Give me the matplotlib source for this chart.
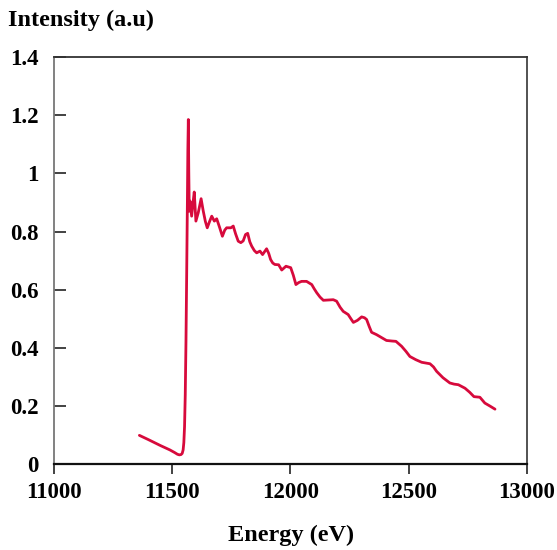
import numpy as np
import matplotlib
matplotlib.use("Agg")
import matplotlib.pyplot as plt
from matplotlib.ticker import FuncFormatter

# spectrum
energy = [11361, 11400, 11450, 11490, 11510, 11522, 11530, 11537, 11542, 11546,
          11549, 11552, 11555, 11558, 11561, 11564, 11566, 11568, 11570, 11572,
          11575, 11582, 11588, 11593, 11600, 11610, 11622, 11631, 11640, 11648,
          11658, 11667, 11678, 11688, 11700, 11712, 11722, 11730, 11748, 11758,
          11768, 11779, 11790, 11800, 11810, 11819, 11828, 11836, 11847, 11857,
          11871, 11882, 11899, 11908, 11916, 11925, 11934, 11950, 11963, 11981,
          12001, 12012, 12023, 12035, 12047, 12068, 12090, 12100, 12111, 12125,
          12139, 12160, 12181, 12195, 12210, 12223, 12244, 12256, 12266, 12283,
          12301, 12313, 12322, 12333, 12343, 12364, 12385, 12406, 12430, 12446,
          12470, 12488, 12505, 12530, 12555, 12590, 12605, 12618, 12645, 12674,
          12692, 12710, 12738, 12758, 12776, 12801, 12822, 12845, 12865]
intensity = [0.100, 0.085, 0.065, 0.050, 0.041, 0.035, 0.033, 0.034, 0.038, 0.050,
             0.075, 0.130, 0.240, 0.420, 0.650, 0.900, 1.080, 1.185, 1.000, 0.870,
             0.905, 0.853, 0.900, 0.936, 0.836, 0.865, 0.913, 0.871, 0.835, 0.813,
             0.835, 0.853, 0.836, 0.844, 0.815, 0.784, 0.805, 0.813, 0.813, 0.819,
             0.792, 0.767, 0.762, 0.768, 0.790, 0.794, 0.765, 0.750, 0.735, 0.727,
             0.733, 0.721, 0.741, 0.725, 0.704, 0.692, 0.687, 0.686, 0.668, 0.681,
             0.676, 0.650, 0.618, 0.625, 0.629, 0.629, 0.618, 0.604, 0.590, 0.575,
             0.564, 0.565, 0.566, 0.561, 0.540, 0.526, 0.515, 0.500, 0.488, 0.495,
             0.507, 0.504, 0.498, 0.474, 0.454, 0.446, 0.436, 0.426, 0.424, 0.423,
             0.406, 0.389, 0.371, 0.360, 0.351, 0.346, 0.335, 0.320, 0.298, 0.280,
             0.276, 0.274, 0.262, 0.248, 0.233, 0.231, 0.211, 0.200, 0.190]

x_ticks = [11000, 11500, 12000, 12500, 13000]
y_ticks = [0, 0.2, 0.4, 0.6, 0.8, 1.0, 1.2, 1.4]

plt.rcParams["font.family"] = "Liberation Serif"
plt.rcParams["font.weight"] = "bold"

fig = plt.figure(figsize=(5.57, 5.5), dpi=100)
ax = fig.add_axes([0.097, 0.1555, 0.849, 0.741])

ax.plot(energy, intensity, color="#d70a3c", linewidth=2.0,
        solid_joinstyle="round", solid_capstyle="round")

ax.set_xlim(11000, 13000)
ax.set_ylim(0, 1.4)
ax.set_xticks(x_ticks)
ax.set_yticks(y_ticks)
ax.yaxis.set_major_formatter(FuncFormatter(lambda v, p: "%g" % v))

ax.tick_params(axis="y", direction="in", length=8.5, width=1.2, pad=11,
               labelsize=16.5, color="#222222")
ax.tick_params(axis="x", direction="out", length=7.5, width=1.2, pad=5,
               labelsize=16.5, color="#222222")
for lab in ax.get_xticklabels() + ax.get_yticklabels():
    lab.set_fontweight("bold")

ax.spines["left"].set_color("#777777")
ax.spines["left"].set_linewidth(1.3)
ax.spines["bottom"].set_color("#111111")
ax.spines["bottom"].set_linewidth(1.6)
ax.spines["top"].set_color("#333333")
ax.spines["top"].set_linewidth(1.3)
ax.spines["right"].set_color("#444444")
ax.spines["right"].set_linewidth(1.3)

fig.text(8 / 557, 1 - 20 / 550, "Intensity (a.u)", fontsize=17.5, fontweight="bold",
         ha="left", va="center")
fig.text(291 / 557, 1 - 535 / 550, "Energy (eV)", fontsize=17.5, fontweight="bold",
         ha="center", va="center")

fig.savefig("out.png", dpi=100)
